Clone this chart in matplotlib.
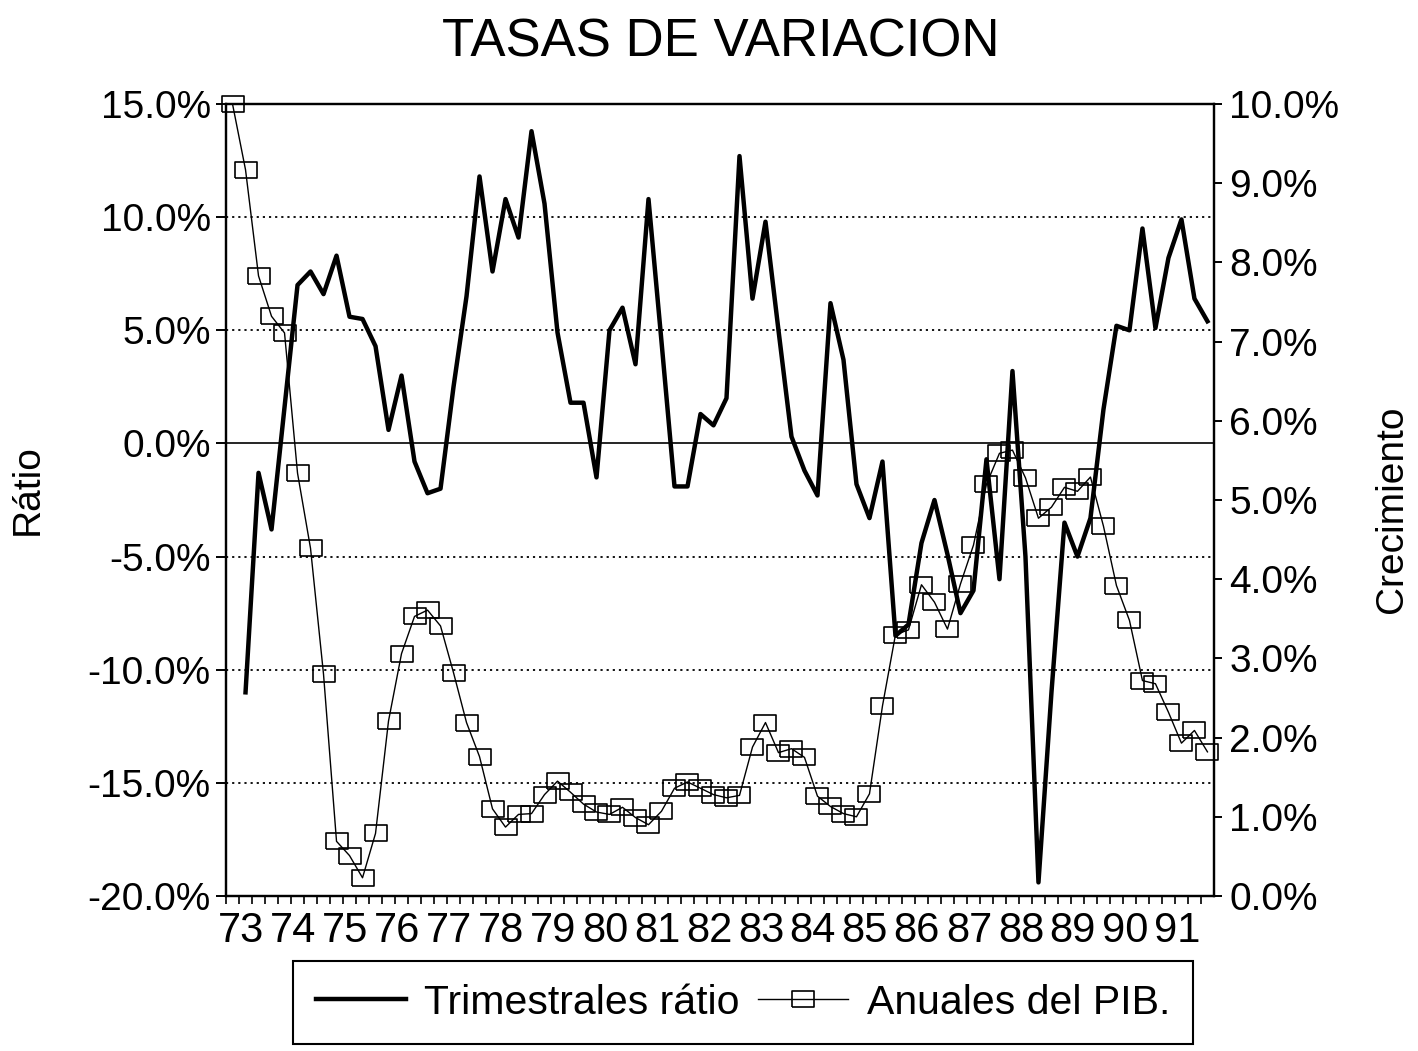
import numpy as np
import matplotlib
matplotlib.use("Agg")
import matplotlib.pyplot as plt
from matplotlib.lines import Line2D

plt.rcParams['font.family'] = ['Liberation Sans', 'DejaVu Sans']

# quarterly data, 1973 Q1 .. 1991 Q4
years = list(range(73, 92))

# Anuales del PIB. (right axis, %)
anuales = [10.0, 9.17, 7.83, 7.32, 7.11, 5.34, 4.39, 2.80, 0.69, 0.51,
           0.23, 0.79, 2.21, 3.06, 3.53, 3.61, 3.41, 2.82, 2.19, 1.76,
           1.10, 0.87, 1.03, 1.04, 1.28, 1.45, 1.31, 1.16, 1.06, 1.03,
           1.12, 0.99, 0.90, 1.07, 1.36, 1.44, 1.36, 1.28, 1.24, 1.27,
           1.88, 2.19, 1.81, 1.86, 1.75, 1.26, 1.13, 1.04, 1.00, 1.29,
           2.40, 3.30, 3.36, 3.93, 3.71, 3.37, 3.94, 4.43, 5.20, 5.59,
           5.63, 5.28, 4.77, 4.91, 5.16, 5.11, 5.29, 4.67, 3.92, 3.48,
           2.72, 2.68, 2.32, 1.93, 2.09, 1.82]

# Trimestrales ratio (left axis, %), starts 1973 Q2
trimestrales = [-11.0, -1.3, -3.8, 1.6, 7.0, 7.6, 6.6, 8.3, 5.6, 5.5,
                4.3, 0.6, 3.0, -0.8, -2.2, -2.0, 2.5, 6.5, 11.8, 7.6,
                10.8, 9.1, 13.8, 10.6, 4.9, 1.8, 1.8, -1.5, 5.0, 6.0,
                3.5, 10.8, 4.5, -1.9, -1.9, 1.3, 0.8, 2.0, 12.7, 6.4,
                9.8, 5.0, 0.3, -1.2, -2.3, 6.2, 3.7, -1.8, -3.3, -0.8,
                -8.5, -8.0, -4.4, -2.5, -4.9, -7.5, -6.5, -0.7, -6.0, 3.2,
                -5.0, -19.4, -11.0, -3.5, -5.0, -3.3, 1.5, 5.2, 5.0, 9.5,
                5.1, 8.2, 9.9, 6.4, 5.4]

left_ticks = [15, 10, 5, 0, -5, -10, -15, -20]
right_ticks = list(range(0, 11))

x = np.arange(len(anuales))

fig = plt.figure(figsize=(14.18, 10.51), dpi=100)
ax = fig.add_axes([0.1594, 0.1475, 0.6967, 0.7535])
ax2 = ax.twinx()
ax.set_zorder(ax2.get_zorder() + 1)
ax.patch.set_visible(False)

# grid
for v in left_ticks[1:-1]:
    if v == 0:
        ax.axhline(v, color='black', lw=1.2, zorder=1)
    else:
        ax.axhline(v, color='black', lw=1.3, ls=(0, (1.2, 2.2)), zorder=1)

ax.plot(x[1:], trimestrales, color='black', lw=3.2, zorder=3)

rect = [(-1.3, -1), (1.3, -1), (1.3, 1), (-1.3, 1), (-1.3, -1)]
ax2.plot(x, anuales, color='black', lw=1.0, marker=rect, ms=15.5,
         mfc='none', mec='black', mew=1.2, clip_on=False)

ax.set_xlim(-0.5, 75.5)
ax.set_ylim(-20, 15)
ax2.set_ylim(0, 10)

ax.set_yticks(left_ticks)
ax.set_yticklabels([f"{v:.1f}%" for v in left_ticks])
ax2.set_yticks(right_ticks)
ax2.set_yticklabels([f"{v:.1f}%" for v in right_ticks])

ax.set_xticks(np.arange(76) - 0.5)
ax.set_xticklabels([])
ax.set_xticks([4 * j + 0.65 for j in range(len(years))], minor=True)
ax.set_xticklabels([str(y) for y in years], minor=True, fontsize=30)

ax.tick_params(axis='x', which='major', direction='out', length=6, width=1.2)
ax.tick_params(axis='x', which='minor', length=0, pad=11)
ax.tick_params(axis='y', direction='out', length=7, width=1.4, pad=4,
               labelsize=28)
ax2.tick_params(axis='y', direction='out', length=6, width=1.4, pad=5,
                labelsize=28)

for a in (ax, ax2):
    for s in a.spines.values():
        s.set_linewidth(1.6)
        s.set_color('black')

fig.text(0.508, 0.960, 'TASAS DE VARIACION', ha='center', va='center',
         fontsize=38)
fig.text(0.0197, 0.534, 'Rátio', rotation=90, ha='center', va='center',
         fontsize=28)
fig.text(0.982, 0.515, 'Crecimiento', rotation=90, ha='center', va='center',
         fontsize=28)

handles = [
    Line2D([], [], color='black', lw=3.2),
    Line2D([], [], color='black', lw=1.0, marker=rect, ms=15.5,
           mfc='none', mec='black', mew=1.2),
]
leg = fig.legend(handles, ['Trimestrales rátio', 'Anuales del PIB.'],
                 loc='center', bbox_to_anchor=(0.524, 0.046), ncol=2,
                 fontsize=29.5, frameon=True, fancybox=False, framealpha=1,
                 edgecolor='black', handlelength=2.2, handletextpad=0.45,
                 columnspacing=0.45, borderpad=0.55, numpoints=1)
leg.get_frame().set_linewidth(1.5)

fig.savefig('out.png', dpi=100)
